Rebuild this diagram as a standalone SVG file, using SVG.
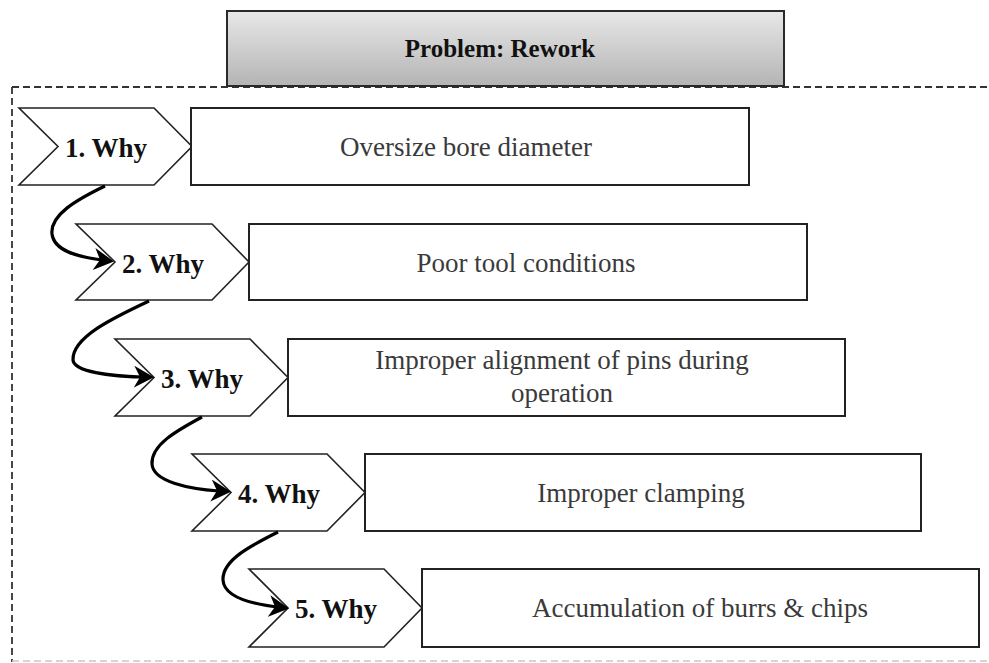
<svg xmlns="http://www.w3.org/2000/svg" width="989" height="663" viewBox="0 0 989 663">
  <style>
    .frame { fill: none; stroke: #333; stroke-width: 1.8; stroke-dasharray: 7 4; }
    .frame-soft { fill: none; stroke: #c8c8c8; stroke-width: 1.5; stroke-dasharray: 7 4; }
    .why { fill: #fff; stroke: #222; stroke-width: 1.6; }
    .box { fill: #fff; stroke: #222; stroke-width: 2; }
    .why-text { font-family: "Liberation Serif", "Times New Roman", serif; font-weight: bold; font-size: 27px; fill: #111; }
    .box-text { font-family: "Liberation Serif", "Times New Roman", serif; font-size: 27px; fill: #3a3a3a; text-anchor: middle; }
    .title { font-family: "Liberation Serif", "Times New Roman", serif; font-weight: bold; font-size: 25px; fill: #111; text-anchor: middle; }
    .link { fill: none; stroke: #000; stroke-width: 3.2; marker-end: url(#head); }
  </style>
  <defs>
    <linearGradient id="titleFill" x1="0" y1="0" x2="0" y2="1">
      <stop offset="0" stop-color="#e8e8e8"/>
      <stop offset="1" stop-color="#b4b4b4"/>
    </linearGradient>
    <!-- swept arrowhead, tip 12px past the end of the path -->
    <marker id="head" markerUnits="userSpaceOnUse" markerWidth="24" markerHeight="24" refX="8" refY="11" orient="auto">
      <path d="M0,0 L20,11 L0,22 L6,11 z" fill="#000"/>
    </marker>
  </defs>

  <rect width="989" height="663" fill="#fff"/>

  <!-- dashed frame around the five whys -->
  <g id="frame">
    <path class="frame" d="M12,87 H989 M12,87 V662"/>
    <path class="frame-soft" d="M12,661 H989"/>
  </g>

  <!-- title -->
  <g id="problem">
    <rect x="227" y="11" width="557" height="75" fill="url(#titleFill)" stroke="#2a2a2a" stroke-width="2"/>
    <text class="title" x="500" y="57">Problem: Rework</text>
  </g>

  <g id="why1">
    <polygon class="why" points="19,108 154,108 192,146.5 154,185 19,185 58,146.5"/>
    <text class="why-text" x="65" y="157">1. Why</text>
    <rect class="box" x="191" y="108" width="558" height="77"/>
    <text class="box-text" x="466" y="156">Oversize bore diameter</text>
  </g>

  <g id="why2">
    <polygon class="why" points="76,224 212,224 249,262 212,300 76,300 115,262"/>
    <text class="why-text" x="122" y="273">2. Why</text>
    <rect class="box" x="249" y="224" width="558" height="76"/>
    <text class="box-text" x="526" y="272">Poor tool conditions</text>
  </g>

  <g id="why3">
    <polygon class="why" points="115,339 250,339 288,377.5 250,416 115,416 154,377.5"/>
    <text class="why-text" x="161" y="388">3. Why</text>
    <rect class="box" x="288" y="339" width="557" height="77"/>
    <text class="box-text" x="562" y="369">Improper alignment of pins during</text>
    <text class="box-text" x="562" y="402">operation</text>
  </g>

  <g id="why4">
    <polygon class="why" points="192,454 327,454 365,492.5 327,531 192,531 231,492.5"/>
    <text class="why-text" x="238" y="503">4. Why</text>
    <rect class="box" x="365" y="454" width="556" height="77"/>
    <text class="box-text" x="641" y="502">Improper clamping</text>
  </g>

  <g id="why5">
    <polygon class="why" points="249,569 384,569 422,608 384,647 249,647 288,608"/>
    <text class="why-text" x="295" y="618">5. Why</text>
    <rect class="box" x="422" y="569" width="557" height="78"/>
    <text class="box-text" x="700" y="617">Accumulation of burrs &amp; chips</text>
  </g>

  <!-- curved links from each why to the next -->
  <g id="links">
    <path class="link" d="M105,186 C76,200 50,215 52,234 C54,251 78,257 102,260"/>
    <path class="link" d="M149,301 C115,317 72,337 73,360 C74,372 110,376 142,377"/>
    <path class="link" d="M202,417 C176,431 151,445 152,464 C153,482 190,489 219,491"/>
    <path class="link" d="M278,532 C252,545 222,560 223,580 C224,597 252,604 277,607"/>
  </g>
</svg>
